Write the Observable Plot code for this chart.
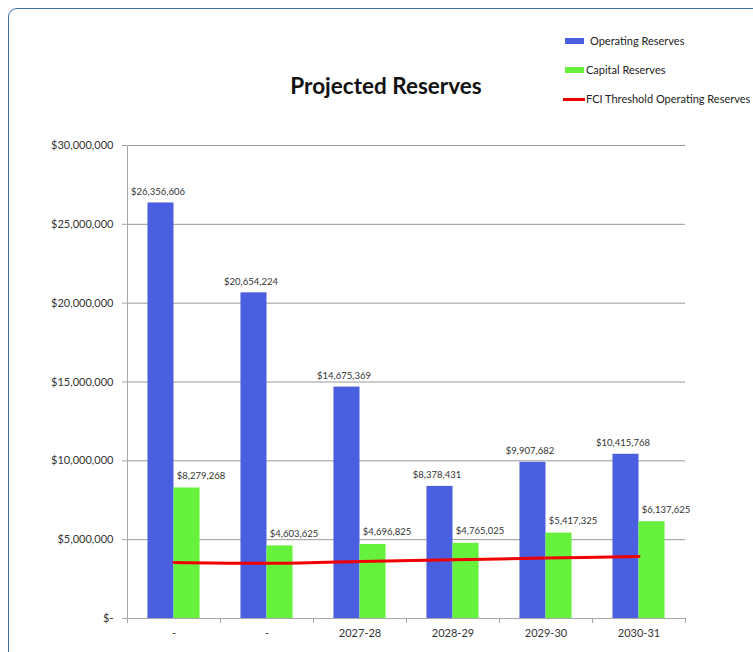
<!DOCTYPE html>
<html>
<head>
<meta charset="utf-8">
<script src="https://cdn.jsdelivr.net/npm/d3@7"></script>
<script src="https://cdn.jsdelivr.net/npm/@observablehq/plot@0.6"></script>
<style>
  html, body { margin: 0; padding: 0; background: #fff; }
  #page { position: relative; width: 753px; height: 652px; overflow: hidden; font-family: Lato, "Open Sans", sans-serif; }
  #frame { position: absolute; left: 8px; top: 8px; width: 800px; height: 700px; border: 1.5px solid #3f6fa6; border-radius: 9px; box-sizing: border-box; }
  #header { position: absolute; left: 0; top: 0; width: 753px; height: 120px; }
  #title { position: absolute; left: 386px; top: 72px; transform: translateX(-50%); font-size: 22.5px; font-weight: bold; color: #111; white-space: nowrap; line-height: 28px; }
  .lg { position: absolute; font-size: 11px; color: #222; white-space: nowrap; line-height: 14px; }
  .sw { position: absolute; }
  #chart { position: absolute; left: 0; top: 120px; }
</style>
</head>
<body>
<div id="page">
  <div id="frame"></div>
  <div id="header">
    <div id="title">Projected Reserves</div>
  </div>
  <div id="chart"></div>
</div>
<script>
const categories = ["-", "-", "2027-28", "2028-29", "2029-30", "2030-31"];
const operatingReserves = [26356606, 20654224, 14675369, 8378431, 9907682, 10415768];
const capitalReserves = [8279268, 4603625, 4696825, 4765025, 5417325, 6137625];
const fciThreshold = [3550000, 3500000, 3620000, 3730000, 3830000, 3940000];
const yTicks = [0, 5000000, 10000000, 15000000, 20000000, 25000000, 30000000];
const seriesNames = ["Operating Reserves", "Capital Reserves", "FCI Threshold Operating Reserves"];
const seriesColors = ["#4a5fe0", "#66f23c", "#f00000"];

const money = v => v === 0 ? "$-" : "$" + d3.format(",")(v);
const rows = categories.map((c, i) => ({i, c, op: operatingReserves[i], cap: capitalReserves[i], thr: fciThreshold[i]}));
const bw = 0.28;

// legend
const header = document.getElementById("header");
const legendTops = [41, 70, 99];
seriesNames.forEach((name, k) => {
  const sw = document.createElement("div");
  sw.className = "sw";
  if (k < 2) {
    sw.style.cssText = `left:565px;top:${legendTops[k] - 3}px;width:19px;height:6px;background:${seriesColors[k]}`;
  } else {
    sw.style.cssText = `left:563px;top:${legendTops[k] - 1.5}px;width:22px;height:3px;background:${seriesColors[k]}`;
  }
  header.appendChild(sw);
  const t = document.createElement("div");
  t.className = "lg";
  t.textContent = name;
  t.style.left = (k === 0 ? 590 : 586) + "px";
  t.style.top = (legendTops[k] - 7) + "px";
  header.appendChild(t);
});

const chart = Plot.plot({
  width: 753,
  height: 532,
  marginLeft: 127,
  marginRight: 68,
  marginTop: 25,
  marginBottom: 34,
  style: {fontFamily: "Lato, 'Open Sans', sans-serif", fontSize: "11px", color: "#333", background: "transparent"},
  x: {domain: [0, 6]},
  y: {domain: [0, 30000000]},
  marks: [
    Plot.gridY(yTicks, {stroke: "#999", strokeOpacity: 1}),
    Plot.rect(rows, {x1: d => d.i + 0.5 - bw, x2: d => d.i + 0.5, y1: 0, y2: "op", fill: seriesColors[0]}),
    Plot.rect(rows, {x1: d => d.i + 0.5, x2: d => d.i + 0.5 + bw, y1: 0, y2: "cap", fill: seriesColors[1]}),
    Plot.line(rows, {x: d => d.i + 0.5, y: "thr", stroke: seriesColors[2], strokeWidth: 3, curve: "catmull-rom"}),
    Plot.text(rows, {x: d => d.i + 0.5 - bw / 2, y: "op", text: d => money(d.op), dx: -3, dy: -8, lineAnchor: "bottom", fontSize: 9.5, fill: "#333"}),
    Plot.text(rows, {x: d => d.i + 0.5 + bw / 2, y: "cap", text: d => money(d.cap), dx: 14, dy: -9, lineAnchor: "bottom", fontSize: 9.5, fill: "#333"}),
    Plot.ruleX([0], {stroke: "#a6a6a6"}),
    Plot.ruleY([0], {stroke: "#a6a6a6"}),
    Plot.axisY({ticks: yTicks, tickFormat: money, tickSize: 5, tickPadding: 9, stroke: "#a6a6a6", fill: "#333", label: null}),
    Plot.axisX({ticks: d3.range(0, 7), tickFormat: () => "", tickSize: 5, stroke: "#a6a6a6", label: null}),
    Plot.axisX({ticks: d3.range(6).map(i => i + 0.5), tickFormat: v => categories[Math.floor(v)], tickSize: 0, tickPadding: 11, fill: "#333", label: null})
  ]
});
document.getElementById("chart").appendChild(chart);
</script>
</body>
</html>
